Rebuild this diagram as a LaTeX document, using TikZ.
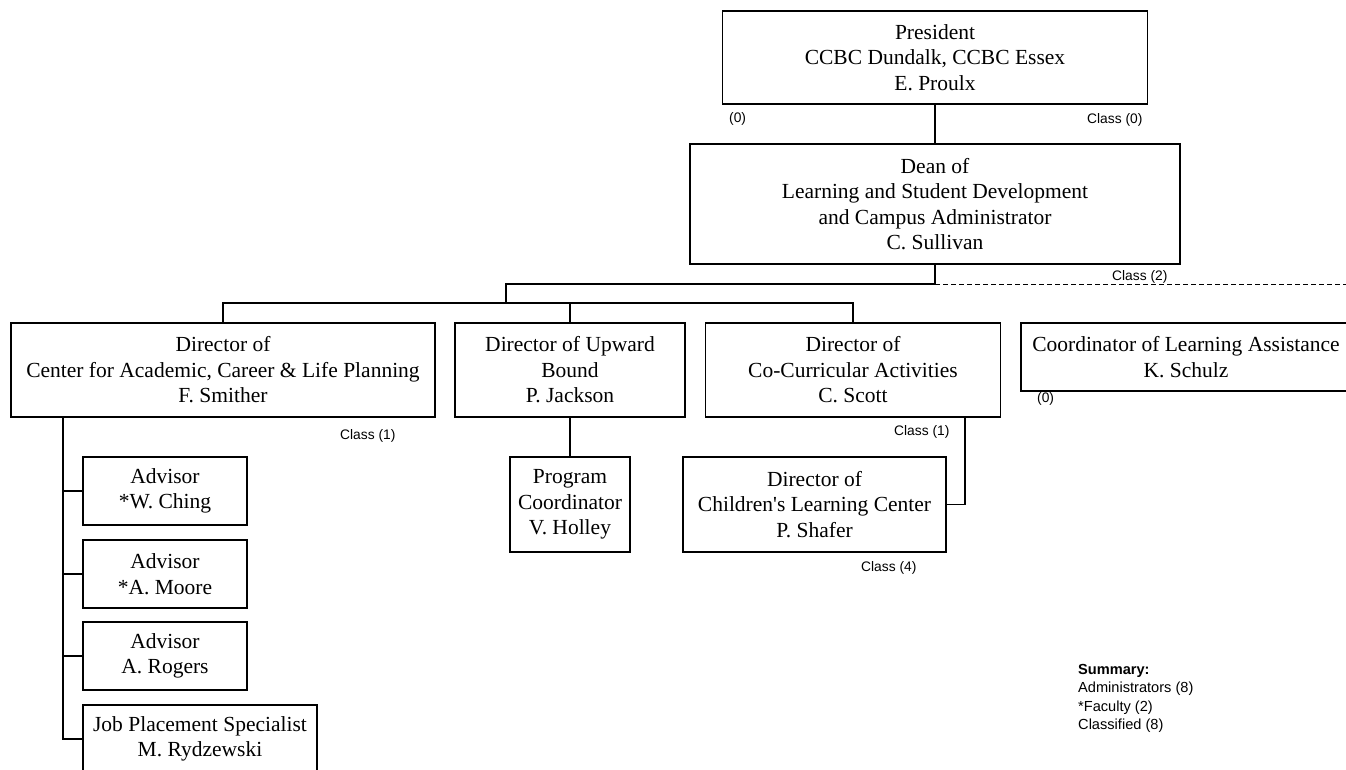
\documentclass[tikz,border=0pt]{standalone}
\usepackage{fontspec}
\setmainfont{Liberation Serif}
\setsansfont{Liberation Sans}
\usepackage{tikz}
\usetikzlibrary{positioning,calc}
\newcommand{\boxfont}{\fontsize{21.5}{25.5}\selectfont}
\newcommand{\tagfont}{\sffamily\fontsize{13.8}{18}\selectfont}
\newcommand{\sumfont}{\sffamily\fontsize{14.6}{18.3}\selectfont}
\tikzset{
  posbox/.style={rectangle,draw,line width=1.4pt,align=center,inner sep=0pt,font=\boxfont},
  orgline/.style={line width=1.4pt},
  vacantline/.style={line width=0.8pt,dash pattern=on 5pt off 3pt},
  classtag/.style={anchor=west,inner sep=0pt,font=\tagfont},
}

\begin{document}
\begin{tikzpicture}[x=1pt,y=-1pt]
  \useasboundingbox (0,0) rectangle (1346,769);
  \node[posbox,minimum width=425pt,minimum height=93pt] (pres) at (935,57.5) {President\\CCBC Dundalk, CCBC Essex\\E. Proulx};
  \node[posbox,minimum width=490pt,minimum height=120pt] (dean) at (935,204) {Dean of\\Learning and Student Development\\and Campus Administrator\\C. Sullivan};
  \node[posbox,minimum width=424pt,minimum height=94pt] (smither) at (223,370) {Director of\\Center for Academic, Career \& Life Planning\\F. Smither};
  \node[posbox,minimum width=230pt,minimum height=94pt] (jackson) at (570,370) {Director of Upward\\Bound\\P. Jackson};
  \node[posbox,minimum width=295pt,minimum height=94pt] (scott) at (853,370) {Director of\\Co-Curricular Activities\\C. Scott};
  \node[posbox,minimum width=330pt,minimum height=68pt] (schulz) at (1186,357) {Coordinator of Learning Assistance\\K. Schulz};
  \node[posbox,minimum width=120pt,minimum height=95pt] (holley) at (570,504.5) {Program\\Coordinator\\V. Holley};
  \node[posbox,minimum width=263pt,minimum height=95pt] (shafer) at (814.5,504.5) {Director of\\Children\textquotesingle s Learning Center\\P. Shafer};
  \node[posbox,minimum width=164pt,minimum height=68pt] (ching) at (165,491) {Advisor\\*W. Ching};
  \node[posbox,minimum width=164pt,minimum height=68pt] (moore) at (165,574) {Advisor\\*A. Moore};
  \node[posbox,minimum width=164pt,minimum height=68pt] (rogers) at (165,656) {Advisor\\A. Rogers};
  \node[posbox,minimum width=234pt,minimum height=68pt] (job) at (200,739) {Job Placement Specialist\\M. Rydzewski};

  \coordinate (busA) at (506,284);
  \coordinate (busB) at (506,303);
  \coordinate (vacant) at (1346,284);
  \coordinate (spine) at (63,417);
  \coordinate (scottdrop) at (965,417);

  \draw[orgline] (pres.south) -- (dean.north);
  \draw[orgline] (dean.south) |- (busA) -- (busB);
  \draw[vacantline] (dean.south |- busA) -- (vacant);
  \draw[orgline] (smither.north) |- (busB) -| (scott.north);
  \draw[orgline] (jackson.north) -- (jackson.north |- busB);
  \draw[orgline] (jackson.south) -- (holley.north);
  \draw[orgline] (scottdrop) |- (shafer.east);
  \draw[orgline] (spine) |- (job.west);
  \foreach \n in {ching,moore,rogers}
    \draw[orgline] (\n.west) -- (\n.west -| spine);

  \node[classtag] (t0a) at (729,119) {(0)};
  \node[classtag] (t0b) at (1087,120) {Class (0)};
  \node[classtag] (t2) at (1112,277) {Class (2)};
  \node[classtag] (t1a) at (340,436) {Class (1)};
  \node[classtag] (t1b) at (894,432) {Class (1)};
  \node[classtag] (t4) at (861,568) {Class (4)};
  \node[classtag] (t0c) at (1037,399) {(0)};
  \node[classtag,anchor=north west,align=left,font=\sumfont] (summary) at (1078,664) {\textbf{Summary:}\\Administrators (8)\\*Faculty (2)\\Classified (8)};
\end{tikzpicture}
\end{document}
